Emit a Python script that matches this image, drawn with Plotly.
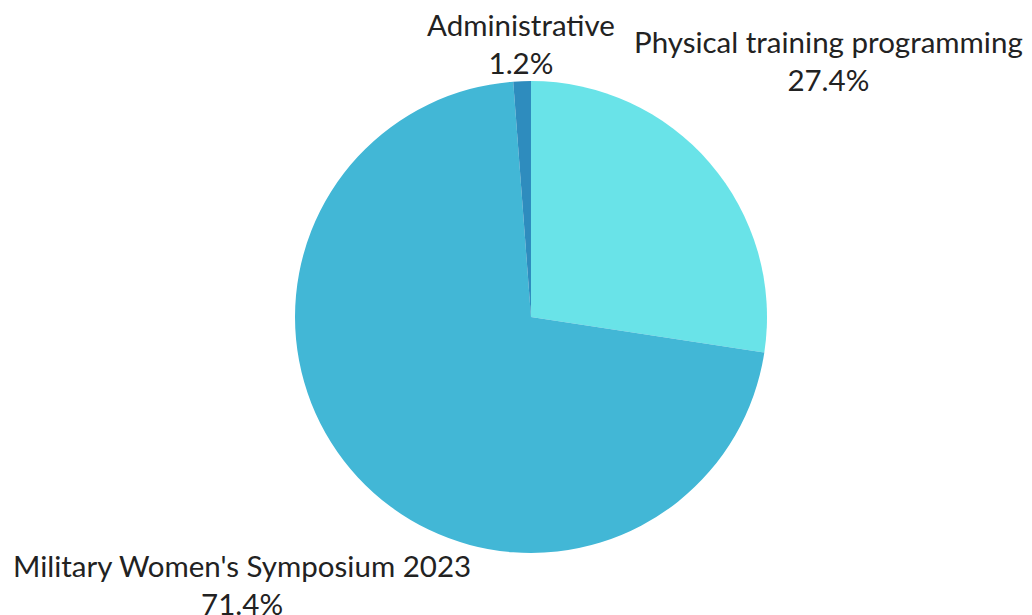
import math
import plotly.graph_objects as go

labels = ["Physical training programming", "Military Women's Symposium 2023", "Administrative"]
values = [27.4, 71.4, 1.2]
colors = ["#69E3E8", "#42B7D6", "#2E8CBE"]

# the page adds an 8px body margin, so the figure is sized to fit inside the window
W, H = 1024, 607
dom_x = [287 / W, 759 / W]
dom_y = [62 / H, 534 / H]
R_px = 236
label_dist = [1.665, 1.67, 1.161]  # label centre distance, in pie radii

fig = go.Figure(go.Pie(
    labels=labels,
    values=values,
    sort=False,
    direction="clockwise",
    rotation=0,
    marker=dict(colors=colors, line=dict(width=0)),
    textinfo="none",
    hoverinfo="label+percent",
    showlegend=False,
    domain=dict(x=dom_x, y=dom_y),
))

cx = (dom_x[0] + dom_x[1]) / 2
cy = (dom_y[0] + dom_y[1]) / 2
total = sum(values)
cum = 0.0
annotations = []
for lab, v, d in zip(labels, values, label_dist):
    mid = (cum + v / 2) / total * 2 * math.pi
    cum += v
    dx = math.sin(mid) * d * R_px
    dy = math.cos(mid) * d * R_px
    annotations.append(dict(
        x=cx + dx / W, y=cy + dy / H, xref="paper", yref="paper",
        text=f"{lab}<br>{v / total * 100:.1f}%",
        showarrow=False, xanchor="center", yanchor="middle", align="center",
        font=dict(family="Lato", size=29.5, color="#222222"),
    ))

fig.update_layout(
    width=W,
    height=H,
    margin=dict(l=0, r=0, t=0, b=0),
    paper_bgcolor="white",
    plot_bgcolor="white",
    annotations=annotations,
)

fig.write_html("out.html")
